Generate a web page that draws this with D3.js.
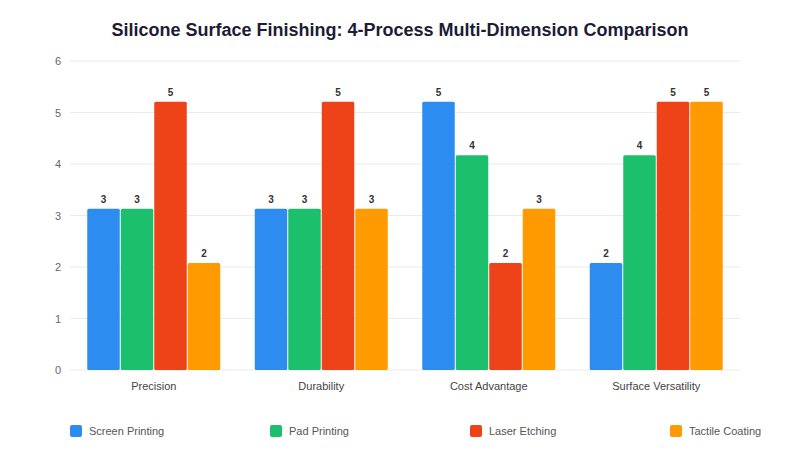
<!DOCTYPE html>
<html><head><meta charset="utf-8">
<script src="https://cdn.jsdelivr.net/npm/d3@7/dist/d3.min.js"></script>
<style>
body{margin:0;background:#fff;}
svg{display:block;font-family:"Liberation Sans",Arial,Helvetica,sans-serif;}
</style></head>
<body>
<svg id="chart" width="800" height="450"></svg>
<script>
const categories = ["Precision", "Durability", "Cost Advantage", "Surface Versatility"];
const seriesNames = ["Screen Printing", "Pad Printing", "Laser Etching", "Tactile Coating"];
const seriesColors = ["#2D8CEF", "#1BBF6C", "#EE4219", "#FF9A00"];
const screenPrinting = [3.13, 3.13, 5.21, 2.08];
const padPrinting = [3.13, 3.13, 4.17, 4.17];
const laserEtching = [5.21, 5.21, 2.08, 5.21];
const tactileCoating = [2.08, 3.13, 3.13, 5.21];
const yTicks = [0, 1, 2, 3, 4, 5, 6];
const title = "Silicone Surface Finishing: 4-Process Multi-Dimension Comparison";

const series = [screenPrinting, padPrinting, laserEtching, tactileCoating];

const svg = d3.select("#chart");
const m = {l: 70, r: 60, t: 61, b: 80};
const W = 800, H = 450;

const x0 = d3.scaleBand().domain(categories).range([m.l, W - m.r]).paddingInner(0.2).paddingOuter(0.1);
const x1 = d3.scaleBand().domain(seriesNames).range([0, x0.bandwidth()]).padding(0);
const y = d3.scaleLinear().domain([0, 6]).range([H - m.b, m.t]);

// title
svg.append("text").attr("x", 400).attr("y", 36).attr("text-anchor", "middle")
  .attr("font-size", 18).attr("font-weight", "bold").attr("fill", "#1c1c35").text(title);

// grid
svg.append("g").selectAll("line").data(yTicks).join("line")
  .attr("x1", m.l).attr("x2", W - m.r)
  .attr("y1", d => y(d)).attr("y2", d => y(d))
  .attr("stroke", "#ebebeb").attr("stroke-width", 1);

// y axis
const yAxis = svg.append("g").attr("transform", `translate(${m.l},0)`)
  .call(d3.axisLeft(y).tickValues(yTicks).tickSize(0).tickPadding(9).tickFormat(d3.format("d")));
yAxis.select(".domain").remove();
yAxis.selectAll("text").attr("font-size", 11).attr("fill", "#666").attr("font-family", "Liberation Sans, Arial, sans-serif");

// x axis
const xAxis = svg.append("g").attr("transform", `translate(0,${H - m.b})`)
  .call(d3.axisBottom(x0).tickSize(0).tickPadding(12));
xAxis.select(".domain").remove();
xAxis.selectAll("text").attr("font-size", 11).attr("fill", "#444").attr("font-family", "Liberation Sans, Arial, sans-serif");

// bars
const groups = svg.append("g").selectAll("g").data(categories).join("g")
  .attr("transform", d => `translate(${x0(d)},0)`);
groups.each(function(cat, ci) {
  const g = d3.select(this);
  const rows = seriesNames.map((s, si) => ({s, si, v: series[si][ci]}));
  g.selectAll("rect").data(rows).join("rect")
    .attr("x", d => x1(d.s) + 0.5)
    .attr("width", x1.bandwidth() - 1)
    .attr("y", d => y(d.v))
    .attr("height", d => y(0) - y(d.v))
    .attr("rx", 1.5)
    .attr("fill", d => seriesColors[d.si]);
  g.selectAll("text").data(rows).join("text")
    .attr("x", d => x1(d.s) + x1.bandwidth() / 2)
    .attr("y", d => y(d.v) - 6)
    .attr("text-anchor", "middle")
    .attr("font-size", 10).attr("font-weight", "bold").attr("fill", "#333")
    .text(d => Math.round(d.v));
});

// legend
const lg = svg.append("g").selectAll("g").data(seriesNames).join("g")
  .attr("transform", (d, i) => `translate(${70 + i * 200},425)`);
lg.append("rect").attr("width", 12).attr("height", 12).attr("rx", 2)
  .attr("fill", (d, i) => seriesColors[i]);
lg.append("text").attr("x", 19).attr("y", 10).attr("font-size", 11).attr("fill", "#555").text(d => d);
</script>
</body></html>
